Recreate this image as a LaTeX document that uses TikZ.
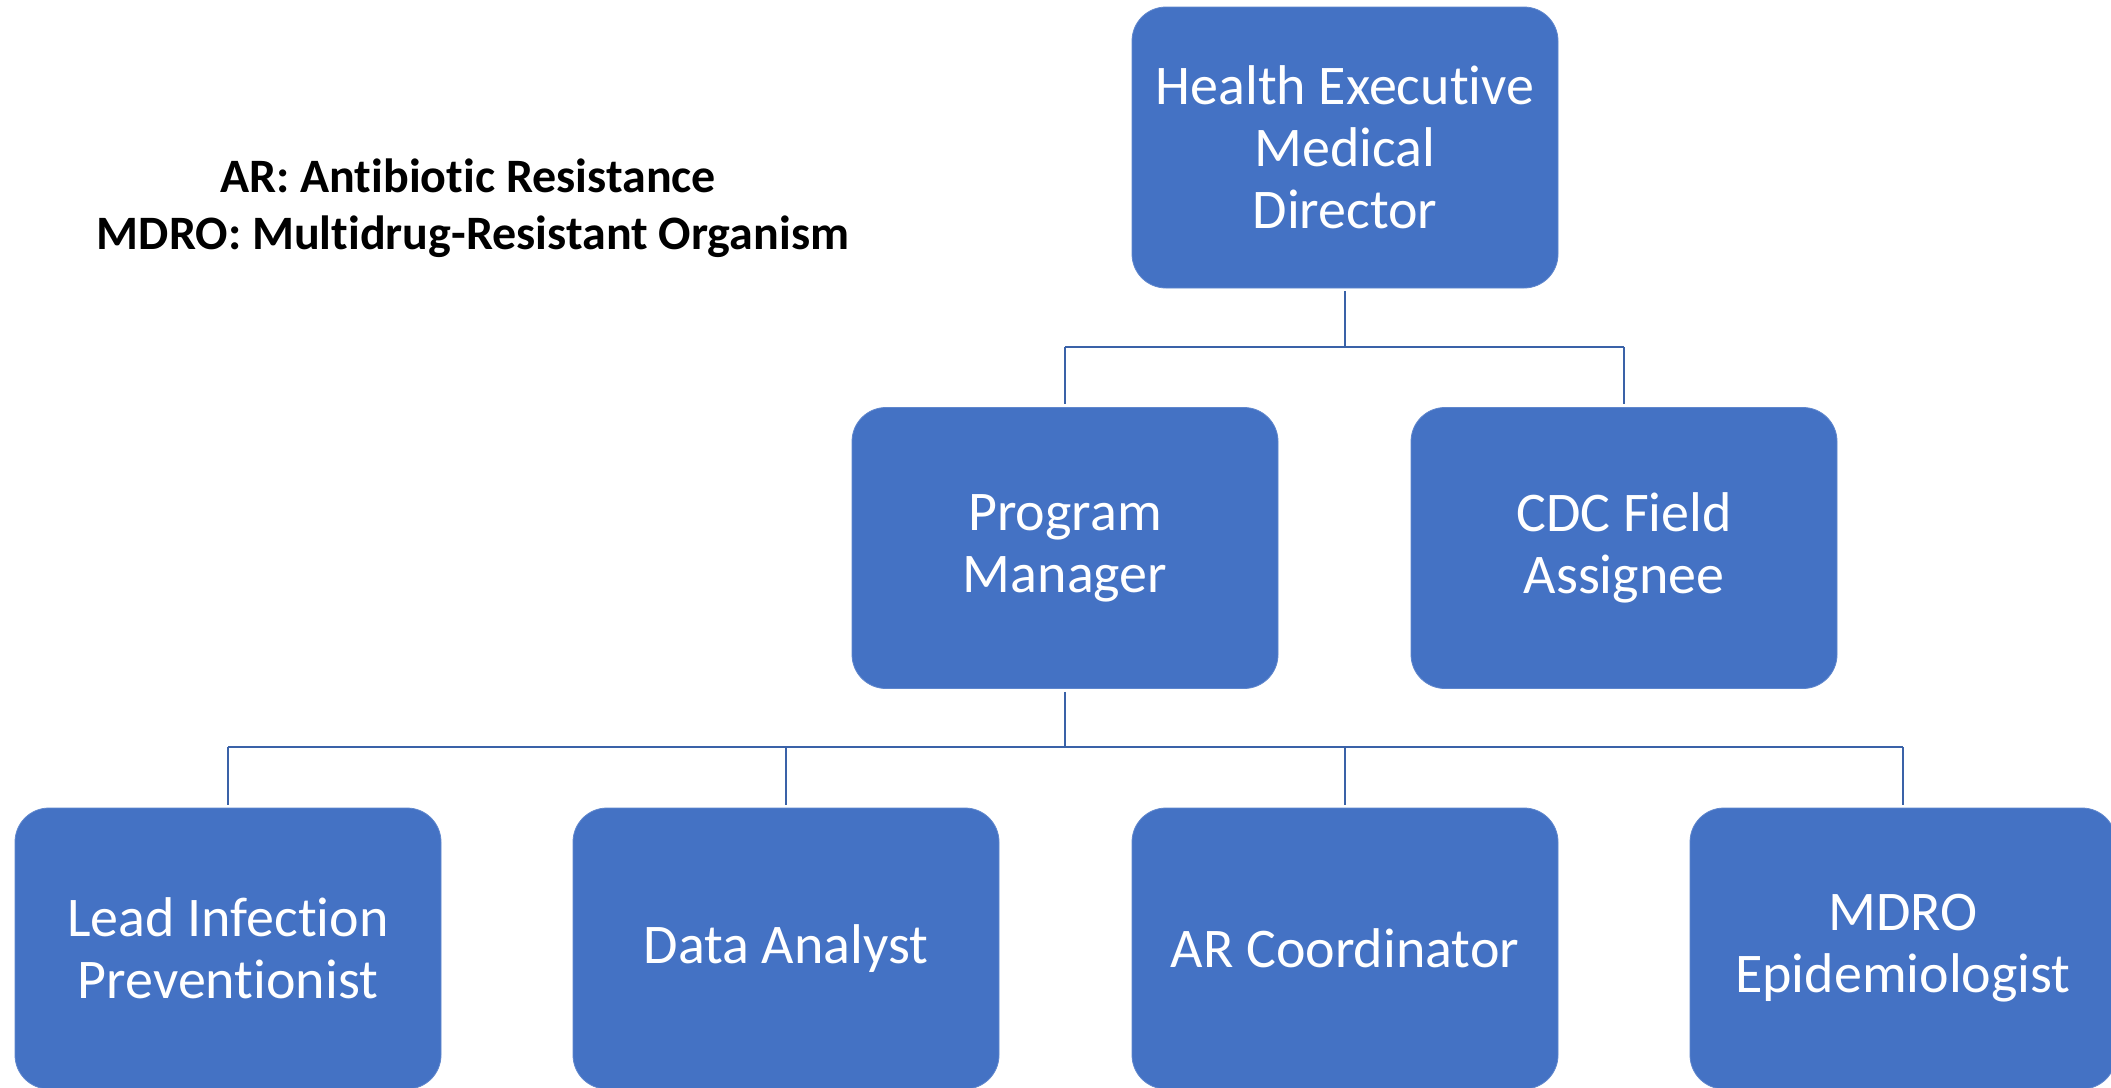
\documentclass[tikz,border=0pt]{standalone}
\usepackage{fontspec}
\setmainfont{Carlito}[Ligatures=NoCommon]
\definecolor{boxblue}{HTML}{4472C4}
\definecolor{linkblue}{HTML}{3A62A8}
\begin{document}
\begin{tikzpicture}[x=1pt,y=-1pt,
  orgbox/.style={rectangle, rounded corners=34pt, fill=boxblue, draw=boxblue!85!white, line width=0.8pt,
    minimum width=426pt, minimum height=281pt, text=white, align=center,
    font=\fontsize{56}{62}\selectfont, inner sep=0pt},
  conn/.style={draw=linkblue, line width=2.6pt}]
\useasboundingbox (0,0) rectangle (2111,1087);
\clip (0,0) rectangle (2111,1087);
\fill[white] (0,0) rectangle (2111,1087);

\node[orgbox] (top) at (1345,147.5) {Health Executive\\Medical\\Director};
\node[orgbox] (pm) at (1065,548) {Program\\Manager};
\node[orgbox] (cdc) at (1624,548) {CDC Field\\Assignee};

\node[orgbox] (lip) at (228,948.5) {Lead Infection\\Preventionist};
\node[orgbox] (da) at (786,948.5) {Data Analyst};
\node[orgbox] (arc) at (1345,948.5) {AR Coordinator};
\node[orgbox] (epi) at (1903,948.5) {MDRO\\Epidemiologist};

\node[align=center, font=\fontsize{48}{57}\selectfont\bfseries, text=black] (legend) at (468,208)
  {AR: Antibiotic Resistance\\\hspace*{10pt}MDRO: Multidrug-Resistant Organism};

\coordinate (j1) at (1345,347);
\coordinate (j2) at (1065,747);

\draw[conn] ([yshift=-3pt]top.south) -- (top.south |- j1);
\draw[conn] (pm.north |- j1) -- (cdc.north |- j1);
\draw[conn] (pm.north |- j1) -- ([yshift=3pt]pm.north);
\draw[conn] (cdc.north |- j1) -- ([yshift=3pt]cdc.north);

\draw[conn] ([yshift=-3pt]pm.south) -- (pm.south |- j2);
\draw[conn] (lip.north |- j2) -- (epi.north |- j2);
\draw[conn] (lip.north |- j2) -- ([yshift=3pt]lip.north);
\draw[conn] (da.north |- j2) -- ([yshift=3pt]da.north);
\draw[conn] (arc.north |- j2) -- ([yshift=3pt]arc.north);
\draw[conn] (epi.north |- j2) -- ([yshift=3pt]epi.north);
\end{tikzpicture}
\end{document}
